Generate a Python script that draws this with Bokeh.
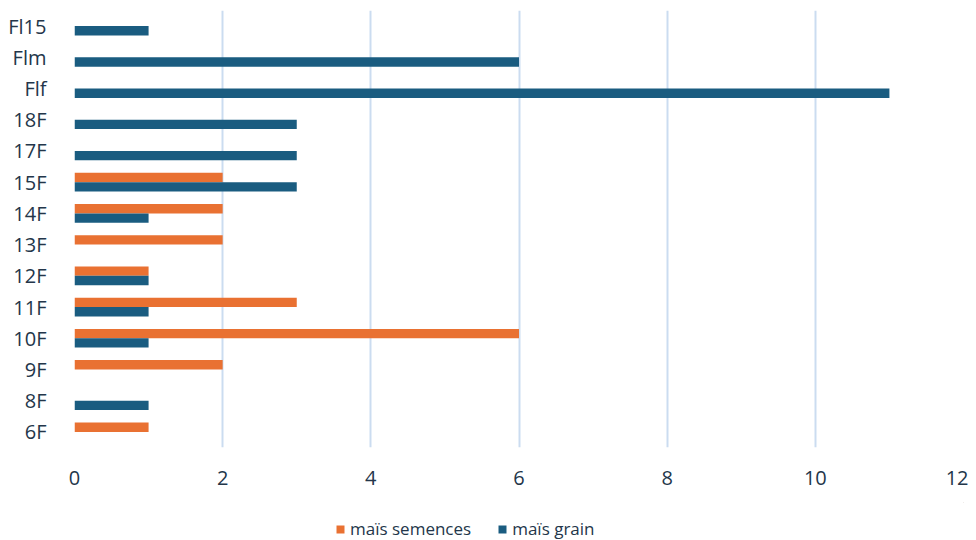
from bokeh.plotting import figure
from bokeh.layouts import column
from bokeh.models import FactorRange, Range1d, ColumnDataSource, Legend, LegendItem, FixedTicker
from bokeh.transform import dodge
from bokeh.embed import file_html
from bokeh.resources import INLINE

categories = ["6F", "8F", "9F", "10F", "11F", "12F", "13F", "14F", "15F", "17F", "18F", "Flf", "Flm", "Fl15"]
mais_semences = [1, 0, 2, 6, 3, 1, 2, 2, 2, 0, 0, 0, 0, 0]
mais_grain = [0, 1, 0, 1, 1, 1, 0, 1, 3, 3, 3, 11, 6, 1]
series_names = ["maïs semences", "maïs grain"]
x_ticks = [0, 2, 4, 6, 8, 10, 12]

FONT = "Open Sans"
TEXT = "#23364a"
ORANGE = "#E97132"
BLUE = "#1A5C80"

src = ColumnDataSource(dict(cat=categories, sem=mais_semences, grain=mais_grain))

chart = figure(y_range=FactorRange(*categories), x_range=Range1d(0, 12),
               frame_width=889, frame_height=437,
               min_border_left=74, min_border_right=5, min_border_top=10, min_border_bottom=55,
               output_backend="svg", toolbar_location=None)

chart.hbar(y=dodge("cat", 0.15, range=chart.y_range), right="sem", left=0, height=0.3,
           source=src, fill_color=ORANGE, line_color=None)
chart.hbar(y=dodge("cat", -0.15, range=chart.y_range), right="grain", left=0, height=0.3,
           source=src, fill_color=BLUE, line_color=None)

chart.outline_line_color = None
chart.ygrid.grid_line_color = None
chart.xgrid.grid_line_color = "#cbdcf0"
chart.xgrid.grid_line_width = 2
chart.xaxis.ticker = FixedTicker(ticks=x_ticks)

for ax in (chart.xaxis, chart.yaxis):
    ax.axis_line_color = None
    ax.major_tick_line_color = None
    ax.minor_tick_line_color = None
    ax.major_label_text_font = FONT
    ax.major_label_text_font_size = "20px"
    ax.major_label_text_color = TEXT
chart.yaxis.major_label_standoff = 22
chart.xaxis.major_label_standoff = 17

# legend strip (swatch renderers sit outside the visible range)
leg = figure(width=968, height=38, x_range=Range1d(0, 1), y_range=Range1d(0, 1),
             min_border=0, output_backend="svg", toolbar_location=None)
leg.axis.visible = False
leg.grid.visible = False
leg.outline_line_color = None
hidden = ColumnDataSource(dict(y=[5], left=[4], right=[5]))
l1 = leg.hbar(y="y", left="left", right="right", height=0.3, source=hidden,
              fill_color=ORANGE, line_color=None)
l2 = leg.hbar(y="y", left="left", right="right", height=0.3, source=hidden,
              fill_color=BLUE, line_color=None)
legend = Legend(items=[LegendItem(label=series_names[0], renderers=[l1]),
                       LegendItem(label=series_names[1], renderers=[l2])],
                orientation="horizontal", location=(261, 0),
                label_text_font=FONT, label_text_font_size="17px", label_text_color=TEXT,
                glyph_width=10, glyph_height=10, spacing=26, label_standoff=5,
                border_line_color=None, background_fill_alpha=0, padding=4, margin=0)
leg.add_layout(legend, "center")

p = column(chart, leg, spacing=0)

open("out.html", "w").write(file_html(p, INLINE))
